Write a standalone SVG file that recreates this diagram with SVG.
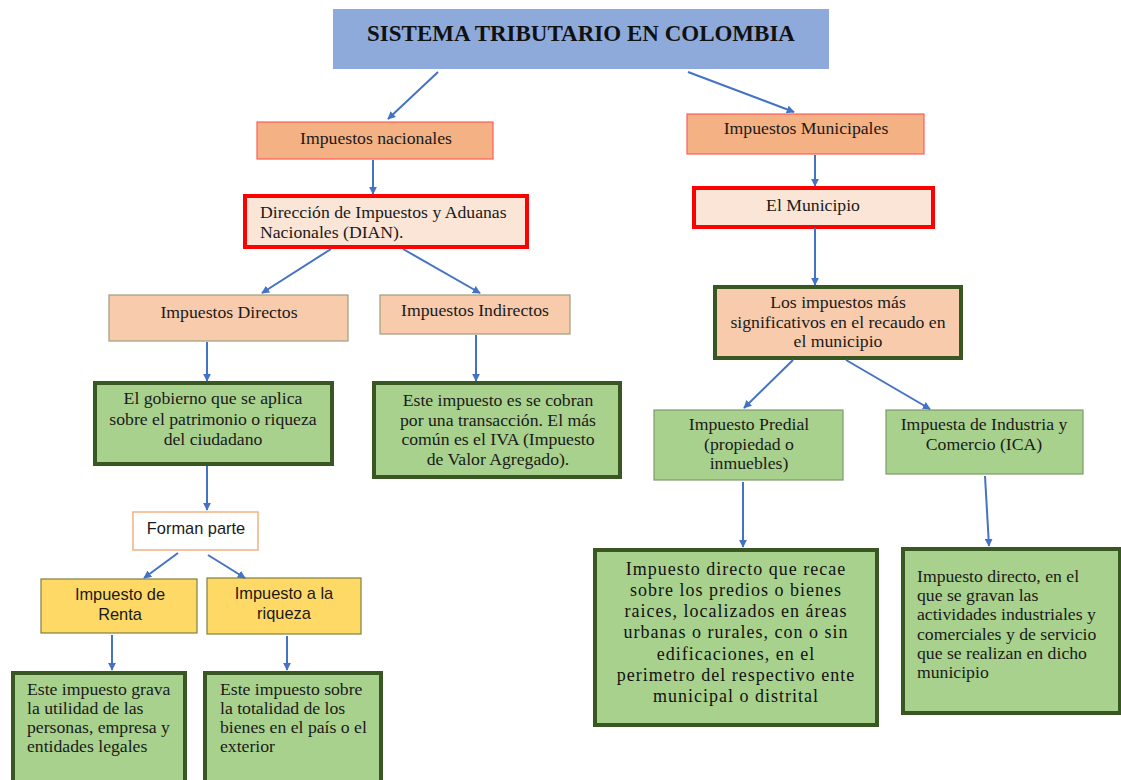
<svg xmlns="http://www.w3.org/2000/svg" width="1121" height="780" viewBox="0 0 1121 780">
<defs>
<marker id="ah" viewBox="0 0 10 10" refX="9" refY="5" markerWidth="4" markerHeight="4" orient="auto" markerUnits="strokeWidth">
<path d="M0,0 L10,5 L0,10 z" fill="#4472C4"/>
</marker>
<style>
.t{font-family:"Liberation Serif","Times New Roman",serif;font-size:17.7px;fill:#1a1a1a}
.p{font-family:"Liberation Serif","Times New Roman",serif;font-size:18px;letter-spacing:1px;fill:#111}
.s{font-family:"Liberation Sans",Arial,sans-serif;font-size:16.4px;fill:#1a1a1a}
.c{text-anchor:middle}
.title{font-family:"Liberation Serif","Times New Roman",serif;font-size:23px;font-weight:bold;fill:#111;text-anchor:middle}
.orange{fill:#F4B183;stroke:#FF5B5B;stroke-width:1.2}
.peach{fill:#F8CBAD;stroke:#9E9E7A;stroke-width:1.2}
.pale{fill:#FBE5D6;stroke:#FF0000;stroke-width:4}
.green{fill:#A9D18E;stroke:#385723;stroke-width:4}
.lgreen{fill:#A9D18E;stroke:#7E9A6A;stroke-width:1.2}
.yellow{fill:#FFD966;stroke:#7F7F3F;stroke-width:1.2}
.white{fill:#fff;stroke:#F4B183;stroke-width:1.5}
.peachg{fill:#F8CBAD;stroke:#385723;stroke-width:4}
.conn line{stroke:#4472C4;stroke-width:2;marker-end:url(#ah)}
</style>
</defs>
<rect width="1121" height="780" fill="#fff"/>

<g id="title">
<rect x="333" y="9" width="496" height="60" fill="#8EAADB"/>
<text class="title" x="581" y="41">SISTEMA TRIBUTARIO EN COLOMBIA</text>
</g>

<g id="nacionales">
<rect class="orange" x="257" y="122" width="236" height="37"/>
<text class="t c" x="376" y="144">Impuestos nacionales</text>
</g>

<g id="dian">
<rect class="pale" x="245" y="196" width="282" height="51"/>
<text class="t" x="260" y="218">Dirección de Impuestos y Aduanas</text>
<text class="t" x="260" y="238">Nacionales (DIAN).</text>
</g>

<g id="municipales">
<rect class="orange" x="687" y="114" width="237" height="40"/>
<text class="t c" x="806" y="134">Impuestos Municipales</text>
</g>

<g id="municipio">
<rect class="pale" x="694" y="188" width="239" height="39"/>
<text class="t c" x="813" y="211">El Municipio</text>
</g>

<g id="directos">
<rect class="peach" x="109" y="295" width="239" height="46"/>
<text class="t c" x="229" y="318">Impuestos Directos</text>
</g>

<g id="indirectos">
<rect class="peach" x="380" y="295" width="190" height="39"/>
<text class="t c" x="475" y="316">Impuestos Indirectos</text>
</g>

<g id="gobierno">
<rect class="green" x="95" y="383" width="237" height="81"/>
<text class="t c" x="213" y="404">El gobierno que se aplica</text>
<text class="t c" x="213" y="424.5">sobre el patrimonio o riqueza</text>
<text class="t c" x="213" y="445">del ciudadano</text>
</g>

<g id="indirecto-desc">
<rect class="green" x="374" y="383" width="246" height="94"/>
<text class="t c" x="498" y="406">Este impuesto es se cobran</text>
<text class="t c" x="498" y="426">por una transacción. El más</text>
<text class="t c" x="498" y="445">común es el IVA (Impuesto</text>
<text class="t c" x="498" y="465">de Valor Agregado).</text>
</g>

<g id="forman">
<rect class="white" x="133" y="512" width="125" height="38"/>
<text class="s c" x="196" y="534">Forman parte</text>
</g>

<g id="renta">
<rect class="yellow" x="41" y="579" width="156" height="54"/>
<text class="s c" x="120" y="600">Impuesto de</text>
<text class="s c" x="120" y="620">Renta</text>
</g>

<g id="riqueza">
<rect class="yellow" x="207" y="578" width="154" height="56"/>
<text class="s c" x="284" y="599">Impuesto a la</text>
<text class="s c" x="284" y="619">riqueza</text>
</g>

<g id="renta-desc">
<rect class="green" x="13" y="673" width="172" height="112"/>
<text class="t" x="27" y="695">Este impuesto grava</text>
<text class="t" x="27" y="714">la utilidad de las</text>
<text class="t" x="27" y="733">personas, empresa y</text>
<text class="t" x="27" y="752">entidades legales</text>
</g>

<g id="riqueza-desc">
<rect class="green" x="205" y="673" width="176" height="112"/>
<text class="t" x="220" y="695">Este impuesto sobre</text>
<text class="t" x="220" y="714">la totalidad de los</text>
<text class="t" x="220" y="733">bienes en el país o el</text>
<text class="t" x="220" y="752">exterior</text>
</g>

<g id="significativos">
<rect class="peachg" x="715" y="287" width="246" height="71"/>
<text class="t c" x="838" y="308">Los impuestos más</text>
<text class="t c" x="838" y="328">significativos en el recaudo en</text>
<text class="t c" x="838" y="347">el municipio</text>
</g>

<g id="predial">
<rect class="lgreen" x="654" y="410" width="189" height="70"/>
<text class="t c" x="749" y="430">Impuesto Predial</text>
<text class="t c" x="749" y="450">(propiedad o</text>
<text class="t c" x="749" y="469">inmuebles)</text>
</g>

<g id="ica">
<rect class="lgreen" x="886" y="410" width="197" height="64"/>
<text class="t c" x="984" y="430">Impuesta de Industria y</text>
<text class="t c" x="984" y="450">Comercio (ICA)</text>
</g>

<g id="predial-desc">
<rect class="green" x="595" y="550" width="282" height="175"/>
<text class="p c" x="736" y="575">Impuesto directo que recae</text>
<text class="p c" x="736" y="596">sobre los predios o bienes</text>
<text class="p c" x="736" y="617">raices, localizados en áreas</text>
<text class="p c" x="736" y="638">urbanas o rurales, con o sin</text>
<text class="p c" x="736" y="660">edificaciones, en el</text>
<text class="p c" x="736" y="681">perimetro del respectivo ente</text>
<text class="p c" x="736" y="702">municipal o distrital</text>
</g>

<g id="ica-desc">
<rect class="green" x="903" y="549" width="217" height="164"/>
<text class="t" x="917" y="582">Impuesto directo, en el</text>
<text class="t" x="917" y="601">que se gravan las</text>
<text class="t" x="917" y="620">actividades industriales y</text>
<text class="t" x="917" y="640">comerciales y de servicio</text>
<text class="t" x="917" y="659">que se realizan en dicho</text>
<text class="t" x="917" y="678">municipio</text>
</g>

<g id="connectors" class="conn">
<line x1="438" y1="72" x2="388" y2="119"/>
<line x1="688" y1="72" x2="794" y2="112"/>
<line x1="373" y1="160" x2="373" y2="194"/>
<line x1="331" y1="249" x2="262" y2="293"/>
<line x1="403" y1="249" x2="480" y2="293"/>
<line x1="207" y1="342" x2="207" y2="381"/>
<line x1="476" y1="335" x2="476" y2="381"/>
<line x1="207" y1="466" x2="207" y2="510"/>
<line x1="178" y1="553" x2="144" y2="578"/>
<line x1="208" y1="555" x2="245" y2="578"/>
<line x1="112" y1="635" x2="112" y2="670"/>
<line x1="287" y1="636" x2="287" y2="670"/>
<line x1="815" y1="155" x2="815" y2="186"/>
<line x1="815" y1="228" x2="815" y2="285"/>
<line x1="793" y1="360" x2="744" y2="408"/>
<line x1="846" y1="360" x2="930" y2="409"/>
<line x1="743" y1="482" x2="743" y2="547"/>
<line x1="985" y1="476" x2="989" y2="546"/>
</g>
</svg>
